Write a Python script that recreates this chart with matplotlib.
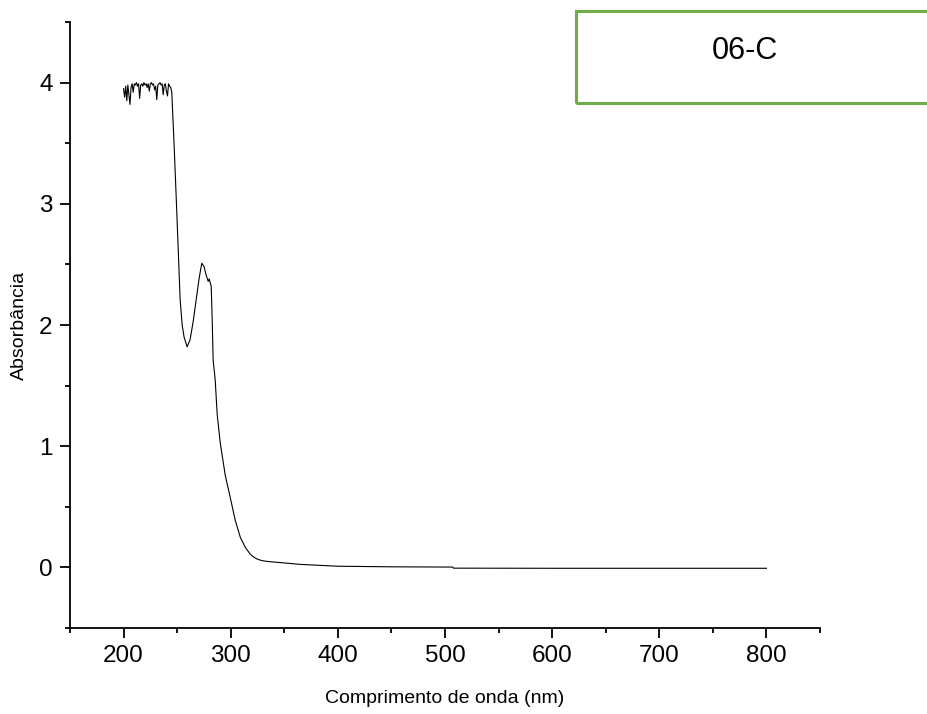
import matplotlib
matplotlib.use("Agg")
import matplotlib.pyplot as plt
from matplotlib.patches import Rectangle

plt.rcParams['font.family'] = ['Liberation Sans', 'DejaVu Sans']

# Noisy saturated region (200-245 nm, 1 nm steps)
noise_wl = list(range(200, 246))
noise_abs = [3.95, 3.88, 3.97, 3.85, 3.98, 3.90, 3.82, 3.96, 3.99, 3.92,
             3.99, 3.98, 4.00, 3.97, 3.99, 3.87, 3.98, 3.99, 3.97, 4.00,
             3.98, 3.99, 3.96, 3.99, 3.93, 3.99, 4.00, 3.98, 3.99, 3.94,
             3.97, 3.86, 3.98, 3.99, 4.00, 3.98, 3.99, 3.90, 3.98, 3.99,
             3.93, 3.89, 3.99, 3.97, 3.96, 3.92]

# Main spectrum after saturation
spec_wl = [247.2, 249.1, 250.9, 252.8, 254.7, 256.5, 259.3, 262.1, 265.0,
           267.8, 270.6, 273.0, 275.2, 277.1, 279.0, 279.9, 281.8, 282.7,
           283.6, 285.5, 287.4, 290.2, 294.9, 299.5, 304.2, 308.9, 313.6,
           318.2, 321.0, 324.0, 327.6, 332.0, 338.0, 346.3, 365.0, 400.0,
           450.0, 507.0, 508.0, 600.0, 700.0, 800.0]
spec_abs = [3.48, 3.06, 2.65, 2.21, 2.00, 1.90, 1.82, 1.88, 2.03,
            2.21, 2.39, 2.51, 2.48, 2.41, 2.36, 2.38, 2.32, 2.05,
            1.71, 1.55, 1.26, 1.03, 0.76, 0.58, 0.39, 0.25, 0.165,
            0.11, 0.088, 0.072, 0.060, 0.052, 0.046, 0.040, 0.025, 0.010,
            0.005, 0.003, -0.006, -0.007, -0.007, -0.007]

wl = noise_wl + spec_wl
ab = noise_abs + spec_abs

x_ticks = [200, 300, 400, 500, 600, 700, 800]
y_ticks = [0, 1, 2, 3, 4]

fig = plt.figure(figsize=(9.27, 7.14), dpi=100)
ax = fig.add_axes([0.0755, 0.1204, 0.8091, 0.8488])
ax.plot(wl, ab, color='black', lw=0.8)

ax.set_xlim(150, 850)
ax.set_ylim(-0.5, 4.5)
ax.set_xticks(x_ticks)
ax.set_yticks(y_ticks)
ax.set_xticks([150, 250, 350, 450, 550, 650, 750, 850], minor=True)
ax.set_yticks([-0.5, 0.5, 1.5, 2.5, 3.5, 4.5], minor=True)

for s in ['top', 'right']:
    ax.spines[s].set_visible(False)
for s in ['left', 'bottom']:
    ax.spines[s].set_linewidth(1.3)

ax.tick_params(which='major', direction='out', length=7.5, width=1.3,
               labelsize=17.5, pad=5)
ax.tick_params(which='minor', direction='out', length=3.5, width=1.3)

ax.set_xlabel('Comprimento de onda (nm)', fontsize=14, labelpad=16)
ax.set_ylabel('Absorbância', fontsize=14, labelpad=8)

rect = Rectangle((0.6214, 0.8557), 0.42, 0.1289, transform=fig.transFigure,
                 fill=False, edgecolor='#70AD47', linewidth=2.2, clip_on=False)
fig.patches.append(rect)
fig.text(0.8037, 0.928, '06-C', fontsize=22, ha='center', va='center')

fig.savefig('out.png', dpi=100)
